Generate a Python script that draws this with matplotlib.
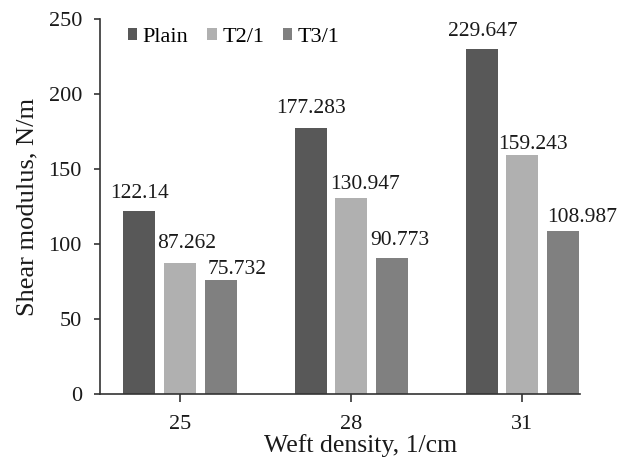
import matplotlib.pyplot as plt
import numpy as np

# data
categories = ['25', '28', '31']
series = ['Plain', 'T2/1', 'T3/1']
plain = [122.14, 177.283, 229.647]
t21 = [87.262, 130.947, 159.243]
t31 = [75.732, 90.773, 108.987]
labels_plain = ['122.14', '177.283', '229.647']
labels_t21 = ['87.262', '130.947', '159.243']
labels_t31 = ['75.732', '90.773', '108.987']

colors = ['#585858', '#b0b0b0', '#808080']
# label nudges (pixels) the way they sit in the original
label_dx = [[0, 1, 1], [7, 14, 11], [16, 8, 19]]
label_dy = [[13, 15, 13], [15, 9, 6], [6, 13, 9]]

plt.rcParams['font.family'] = ['Liberation Serif', 'DejaVu Serif']

fig = plt.figure(figsize=(6.29, 4.62), dpi=100)
ax = fig.add_axes([0.159, 0.147, 0.763, 0.812])

x = np.arange(len(categories))
pitch, width = 0.238, 0.187
all_vals = [plain, t21, t31]
all_labels = [labels_plain, labels_t21, labels_t31]
for i, (vals, labs) in enumerate(zip(all_vals, all_labels)):
    pos = x + (i - 1) * pitch
    ax.bar(pos, vals, width, color=colors[i], label=series[i])
    for j, (p, v, s) in enumerate(zip(pos, vals, labs)):
        ax.annotate(s, (p, v), xytext=(label_dx[i][j], label_dy[i][j]),
                    textcoords='offset pixels', ha='center', va='baseline',
                    fontsize=15.5, color='#1a1a1a')

ax.set_xlim(-0.468, 2.336)
ax.set_ylim(0, 250)
ax.set_yticks(range(0, 251, 50))
ax.set_xticks(x)
ax.set_xticklabels(categories)
ax.tick_params(labelsize=16, direction='out', width=1.2, color='#333333',
               labelcolor='#1a1a1a')
ax.tick_params(axis='x', length=6, pad=9)
ax.tick_params(axis='y', length=4.5, pad=8.5)
ax.spines['top'].set_visible(False)
ax.spines['right'].set_visible(False)
for s in ['left', 'bottom']:
    ax.spines[s].set_color('#333333')
    ax.spines[s].set_linewidth(1.2)

ax.set_xlabel('Weft density, 1/cm', fontsize=18.5, labelpad=0, x=0.542,
              color='#1a1a1a')
ax.set_ylabel('Shear modulus, N/m', fontsize=19, labelpad=7, color='#1a1a1a')

ax.legend(loc='center left', ncol=3, frameon=False, fontsize=16,
          handlelength=0.42, handleheight=0.42, handletextpad=0.25,
          columnspacing=0.85, borderpad=0, borderaxespad=0,
          bbox_to_anchor=(0.058, 0.951))

fig.savefig('out.png', dpi=100)
